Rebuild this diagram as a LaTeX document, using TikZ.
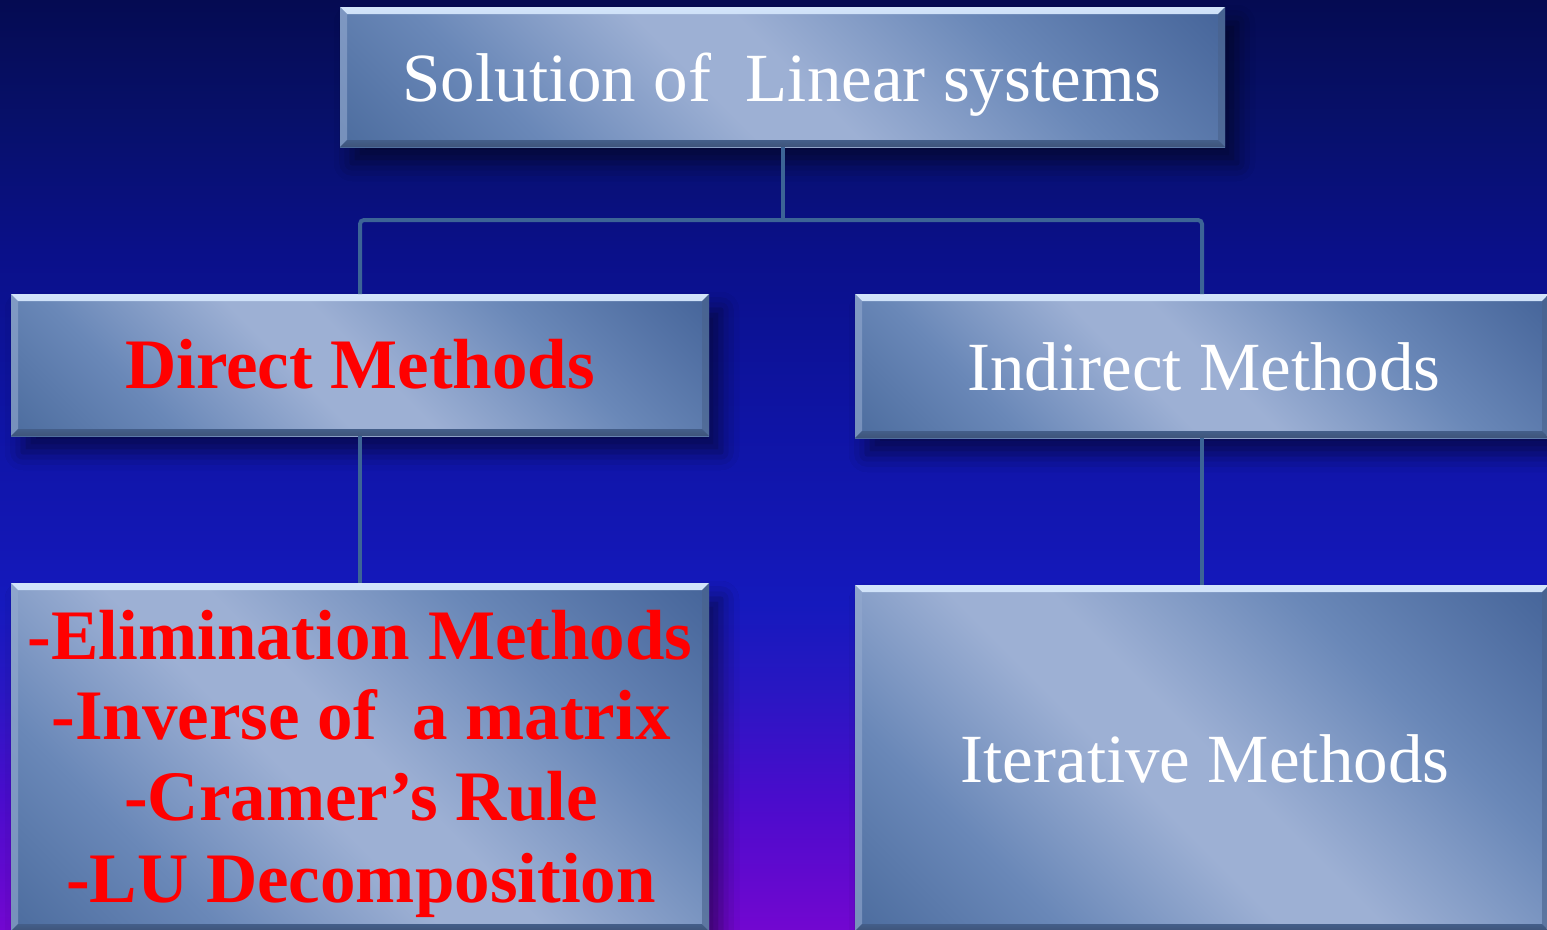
\documentclass[tikz,border=0pt]{standalone}
\usepackage{fontspec}
\setmainfont{Liberation Serif}
\usetikzlibrary{shadows.blur}

\definecolor{bgN}{HTML}{050B52}
\definecolor{bgA}{HTML}{07106A}
\definecolor{bgB}{HTML}{0A1089}
\definecolor{bgC}{HTML}{0F14A5}
\definecolor{bgD}{HTML}{1519BD}
\definecolor{bgE}{HTML}{2817C2}
\definecolor{bgF}{HTML}{4A0CCC}
\definecolor{bgP}{HTML}{7207D0}

\definecolor{boxD}{HTML}{4D6D9F}
\definecolor{boxM}{HTML}{6A88B8}
\definecolor{boxL}{HTML}{9DB0D4}
\definecolor{boxK}{HTML}{46659A}
\definecolor{bevHi}{HTML}{D2E4FA}
\definecolor{bevLo}{HTML}{8DA6CF}
\definecolor{bevLeft}{HTML}{93A9CF}
\definecolor{bevBot}{HTML}{3E547A}
\definecolor{bevRight}{HTML}{49628C}
\definecolor{connC}{HTML}{3C6496}
\definecolor{txtRed}{HTML}{FF0000}

% page background, dark navy at the top to violet at the bottom
% (a path is mapped onto the middle 25bp--75bp of a shading)
\pgfdeclareverticalshading{bgshade}{100bp}{%
  color(0bp)=(bgP); color(25bp)=(bgP); color(32bp)=(bgF); color(38bp)=(bgE);
  color(42.5bp)=(bgD); color(52bp)=(bgC); color(61.5bp)=(bgB); color(68.5bp)=(bgA);
  color(75bp)=(bgN); color(100bp)=(bgN)}

% steel-blue face with a light diagonal band
\pgfdeclarehorizontalshading{boxshade}{100bp}{%
  color(0bp)=(boxD); color(15bp)=(boxD); color(29bp)=(boxM); color(44bp)=(boxL);
  color(51bp)=(boxL); color(67.5bp)=(boxM); color(85bp)=(boxK); color(100bp)=(boxK)}

\newcommand\boxbevel{%
  \shade[top color=bevHi, bottom color=bevLo]
    (path picture bounding box.north west) -- (path picture bounding box.north east)
    -- ([shift={(-7pt,-7pt)}]path picture bounding box.north east)
    -- ([shift={(7pt,-7pt)}]path picture bounding box.north west) -- cycle;
  \fill[bevLeft, opacity=0.6]
    (path picture bounding box.north west) -- ([shift={(7pt,-7pt)}]path picture bounding box.north west)
    -- ([shift={(7pt,7pt)}]path picture bounding box.south west)
    -- (path picture bounding box.south west) -- cycle;
  \fill[bevRight, opacity=0.6]
    (path picture bounding box.north east) -- ([shift={(-7pt,-7pt)}]path picture bounding box.north east)
    -- ([shift={(-7pt,7pt)}]path picture bounding box.south east)
    -- (path picture bounding box.south east) -- cycle;
  \shade[top color=bevBot!60!boxD, bottom color=bevBot]
    (path picture bounding box.south west) -- (path picture bounding box.south east)
    -- ([shift={(-7pt,7pt)}]path picture bounding box.south east)
    -- ([shift={(7pt,7pt)}]path picture bounding box.south west) -- cycle;
}

\tikzset{
  bevelbox/.style={rectangle, inner sep=0pt, outer sep=0pt,
    shading=boxshade, shading angle=45,
    blur shadow={shadow xshift=12pt, shadow yshift=-16pt,
      shadow blur radius=18pt, shadow opacity=50},
    path picture={\boxbevel}},
  conn/.style={draw=connC, line width=4pt},
  wtxt/.style={text=white, inner sep=0pt, font=\fontsize{69}{84}\selectfont},
  rtxt/.style={text=txtRed, inner sep=0pt, font=\fontsize{71}{85}\selectfont\bfseries},
}

\begin{document}
\begin{tikzpicture}[x=1pt, y=-1pt]
  \useasboundingbox (0,0) rectangle (1547,929);
  \shade[shading=bgshade] (0,0) rectangle (1547,929);
  \clip (0,0) rectangle (1547,929);

  % boxes
  \node[bevelbox, minimum width=885pt, minimum height=140pt] (top) at (782.5,77) {};
  \node[bevelbox, minimum width=698pt, minimum height=142pt] (direct) at (360,365) {};
  \node[bevelbox, minimum width=694pt, minimum height=144pt] (indirect) at (1202,366) {};
  \node[bevelbox, minimum width=698pt, minimum height=348pt] (methods) at (360,757) {};
  \node[bevelbox, minimum width=694pt, minimum height=346pt] (iter) at (1202,758) {};

  % connectors
  \coordinate (j) at (782.5,220);
  \draw[conn] (top.south) -- (j);
  \draw[conn, rounded corners=4pt] (direct.north) |- (j) -| (indirect.north);
  \draw[conn] (direct.south) -- (methods.north);
  \draw[conn] (indirect.south) -- (iter.north);

  % labels
  \node[wtxt, anchor=base] (ttop) at (782,101) {Solution of\ \ Linear systems};
  \node[rtxt, anchor=base] (tdirect) at (360,388) {Direct Methods};
  \node[wtxt, anchor=base] (tindirect) at (1204,390) {Indirect Methods};
  \node[rtxt, anchor=base] (l1) at (360,659) {-Elimination Methods};
  \node[rtxt, anchor=base] (l2) at (361,739) {-Inverse of\ \ a matrix};
  \node[rtxt, anchor=base] (l3) at (361,820) {-Cramer’s Rule};
  \node[rtxt, anchor=base] (l4) at (361,902) {-LU Decomposition};
  \node[wtxt, anchor=base] (titer) at (1205,782) {Iterative Methods};
\end{tikzpicture}
\end{document}
